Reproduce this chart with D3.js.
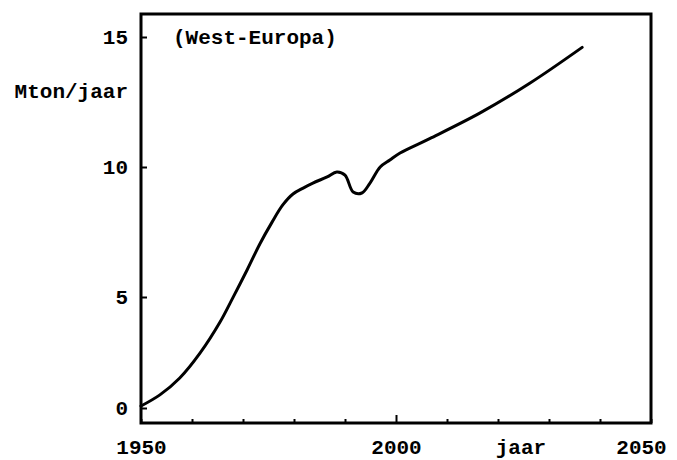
<!DOCTYPE html>
<html>
<head>
<meta charset="utf-8">
<script src="https://cdn.jsdelivr.net/npm/d3@7"></script>
<style>
  body { margin: 0; background: #fff; }
  text { font-family: "Liberation Mono", "DejaVu Sans Mono", monospace; font-weight: bold; }
</style>
</head>
<body>
<svg></svg>
<script>
window.onload = () => {

  const width = 677;
  const height = 460;
  const margin = {left: 141, right: 26, top: 14, bottom: 37};

  // values
  const years = [1950, 1953.7, 1957.6, 1961.6, 1965.5, 1968.0, 1970.8, 1973.3, 1975.7, 1977.8,
                 1979.8, 1981.8, 1983.7, 1986.5, 1988.4, 1990.0, 1991.6, 1993.3, 1994.9,
                 1996.9, 1998.8, 2000.8, 2006.7, 2016.5, 2026.3, 2036.5];
  const values = [0.09, 0.59, 1.35, 2.48, 3.87, 4.96, 6.04, 7.04, 7.88, 8.54,
                  8.96, 9.19, 9.38, 9.62, 9.81, 9.69, 9.04, 9.0, 9.38,
                  10.0, 10.27, 10.54, 11.1, 12.08, 13.23, 14.6];
  const yTicks = [0, 5, 10, 15];
  const xTicks = d3.range(1950, 2051, 10);
  const xLabels = [1950, 2000, 2050];

  const data = years.map((y, i) => ({year: y, value: values[i]}));

  const svg = d3.select('svg').attr('width', width).attr('height', height);

  const x0 = margin.left, x1 = width - margin.right;
  const y0 = margin.top, y1 = height - margin.bottom;

  const xScale = d3.scaleLinear().domain([1950, 2050]).range([x0, x1]);
  // the hand-drawn axis is not evenly spaced, so follow its tick positions
  const yScale = d3.scaleLinear().domain(yTicks).range([408, 297, 167, 37]);

  const xAxis = svg.append('g')
      .attr('transform', 'translate(0,' + y1 + ')')
      .call(d3.axisBottom(xScale).tickValues(xTicks).tickSizeInner(-4).tickSizeOuter(0)
        .tickFormat(d => xLabels.includes(d) ? d : ''));
  xAxis.select('.domain').remove();
  xAxis.selectAll('line').attr('stroke-width', 2);
  xAxis.selectAll('.tick').filter(d => d === 2000).select('line').attr('y2', -8);
  xAxis.selectAll('text')
      .attr('y', 24).attr('dy', '0.35em')
      .attr('font-size', 21).attr('fill', '#000');
  xAxis.selectAll('.tick').filter(d => d === 2050).select('text').attr('x', -10);

  const yAxis = svg.append('g')
      .attr('transform', 'translate(' + x0 + ',0)')
      .call(d3.axisLeft(yScale).tickValues(yTicks).tickSizeInner(-6).tickSizeOuter(0).tickPadding(13));
  yAxis.select('.domain').remove();
  yAxis.selectAll('line').attr('stroke-width', 2);
  yAxis.selectAll('text').attr('font-size', 21).attr('fill', '#000');

  svg.append('rect')
      .attr('x', x0).attr('y', y0)
      .attr('width', x1 - x0).attr('height', y1 - y0)
      .attr('fill', 'none')
      .attr('stroke', '#000')
      .attr('stroke-width', 3);

  const line = d3.line()
      .x(d => xScale(d.year))
      .y(d => yScale(d.value))
      .curve(d3.curveCatmullRom.alpha(0.5));

  svg.append('path')
      .datum(data)
      .attr('fill', 'none')
      .attr('stroke', '#000')
      .attr('stroke-width', 3)
      .attr('stroke-linecap', 'round')
      .attr('d', line);

  svg.append('text')
      .attr('x', x0 - 13).attr('y', yScale(12.92))
      .attr('dy', '0.35em')
      .attr('text-anchor', 'end')
      .attr('font-size', 21)
      .text('Mton/jaar');

  svg.append('text')
      .attr('x', x0 + 32).attr('y', yScale(15))
      .attr('dy', '0.35em')
      .attr('font-size', 21)
      .text('(West-Europa)');

  svg.append('text')
      .attr('x', xScale(2024.5)).attr('y', y1 + 24)
      .attr('dy', '0.35em')
      .attr('text-anchor', 'middle')
      .attr('font-size', 21)
      .text('jaar');

};
</script>
</body>
</html>
